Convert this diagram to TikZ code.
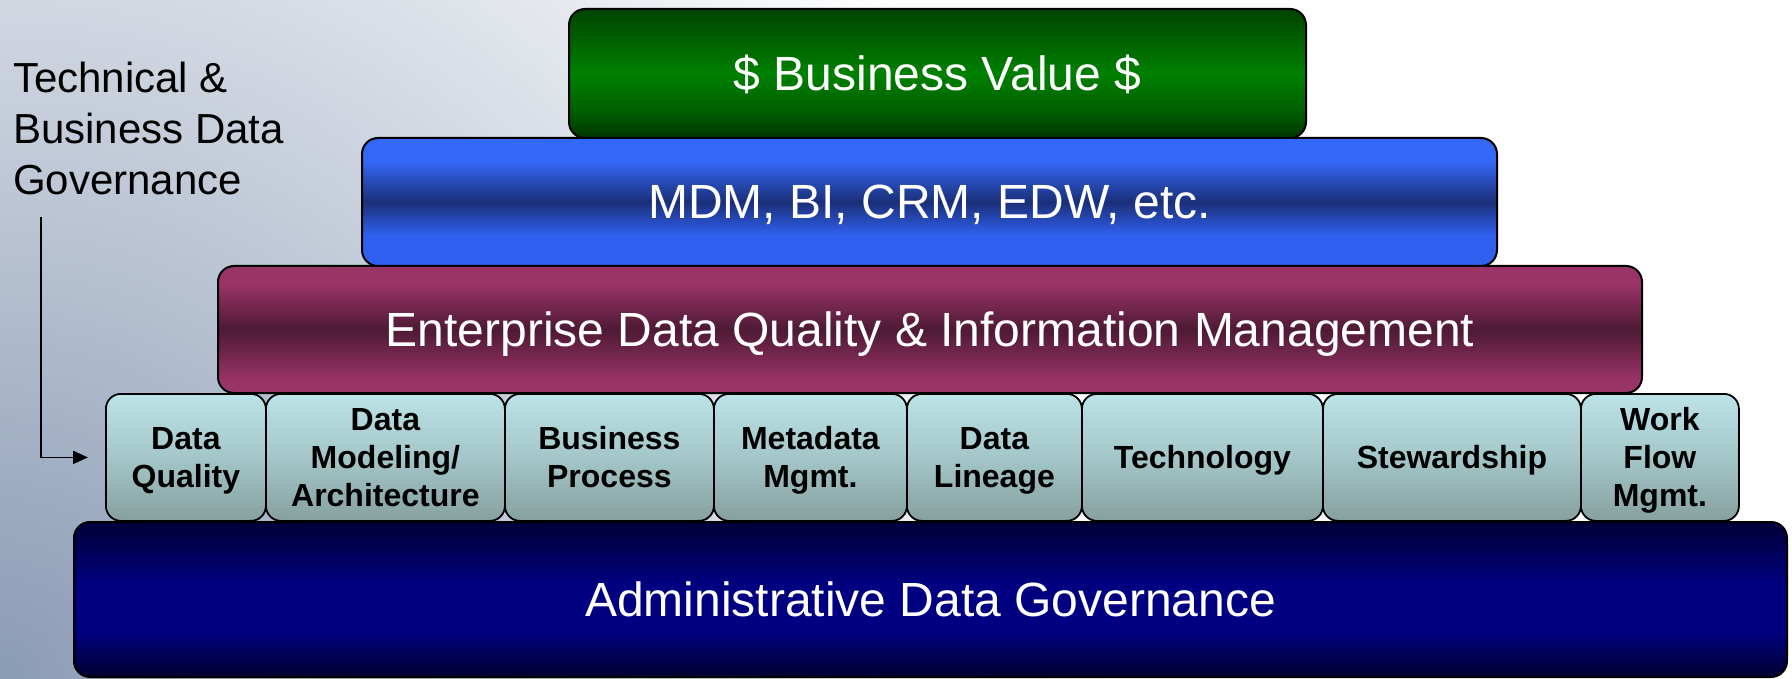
\documentclass[tikz,border=0pt]{standalone}
\usepackage{fontspec}
\setmainfont{Liberation Sans}
\usetikzlibrary{arrows.meta}
\definecolor{bgA}{HTML}{8A9BB5}
\definecolor{gT}{HTML}{004400}
\definecolor{gM}{HTML}{008000}
\definecolor{gQ}{HTML}{006000}
\definecolor{gB}{HTML}{003600}
\definecolor{bT}{HTML}{3468F8}
\definecolor{bD}{HTML}{1A2F78}
\definecolor{bB}{HTML}{3060F0}
\definecolor{mT}{HTML}{9A3366}
\definecolor{mD}{HTML}{4E1A35}
\definecolor{nT}{HTML}{000040}
\definecolor{nM}{HTML}{000080}
\definecolor{nB}{HTML}{000030}
\definecolor{tT}{HTML}{BCE3E7}
\definecolor{tM}{HTML}{A4C6C8}
\definecolor{tB}{HTML}{86A09F}
\pgfdeclareverticalshading{greenshade}{100bp}{color(0bp)=(gB); color(25bp)=(gB); color(36bp)=(gQ); color(50bp)=(gM); color(63bp)=(gQ); color(75bp)=(gT); color(100bp)=(gT)}
\pgfdeclareverticalshading{blueshade}{100bp}{color(0bp)=(bB); color(25bp)=(bB); color(37bp)=(bB); color(50bp)=(bD); color(66bp)=(bT); color(75bp)=(bT); color(100bp)=(bT)}
\pgfdeclareverticalshading{maroonshade}{100bp}{color(0bp)=(mT); color(25bp)=(mT); color(30bp)=(mT); color(50bp)=(mD); color(68bp)=(mT); color(75bp)=(mT); color(100bp)=(mT)}
\pgfdeclareverticalshading{navyshade}{100bp}{color(0bp)=(nB); color(25bp)=(nB); color(40bp)=(nM); color(55bp)=(nM); color(72bp)=(nT); color(75bp)=(nT); color(100bp)=(nT)}
\pgfdeclareverticalshading{tealshade}{100bp}{color(0bp)=(tB); color(25bp)=(tB); color(50bp)=(tM); color(75bp)=(tT); color(100bp)=(tT)}
\begin{document}
\begin{tikzpicture}[x=1pt,y=-1pt,
  layer/.style={draw=black, line width=2pt, rounded corners=16pt, inner sep=0pt,
    anchor=north west, text=white, shade, font=\fontsize{48}{57}\selectfont,
    text height=34pt, text depth=0pt},
  pillar/.style={draw=black, line width=1.8pt, rounded corners=15pt, inner sep=0pt,
    anchor=north west, shade, shading=tealshade, align=center, text=black,
    font=\bfseries\fontsize{32}{38}\selectfont, minimum height=127pt, text depth=0pt},
  conn/.style={draw=black, line width=1.8pt, -{Triangle[length=15pt,width=13pt]}, shorten >=17pt}
]
\useasboundingbox (0,0) rectangle (1792,679);
\fill[white] (0,0) rectangle (1792,679);
\begin{scope}
  \clip (0,0) rectangle (1792,679);
  \shade[inner color=bgA, outer color=white] (0,679) circle [radius=1120pt];
\end{scope}

\node[layer, shading=navyshade, minimum width=1713pt, minimum height=155pt] (adg) at (73,521) {Administrative Data Governance};

\node[pillar, minimum width=160pt] (p1) at (105,393) {Data\\Quality};
\node[pillar, minimum width=239pt] (p2) at (265,393) {Data\\Modeling/\\Architecture};
\node[pillar, minimum width=209pt] (p3) at (504,393) {Business\\Process};
\node[pillar, minimum width=193pt] (p4) at (713,393) {Metadata\\Mgmt.};
\node[pillar, minimum width=175pt] (p5) at (906,393) {Data\\Lineage};
\node[pillar, minimum width=241pt] (p6) at (1081,393) {Technology};
\node[pillar, minimum width=258pt] (p7) at (1322,393) {Stewardship};
\node[pillar, minimum width=158pt] (p8) at (1580,393) {Work\\Flow\\Mgmt.};

\node[layer, shading=maroonshade, minimum width=1424pt, minimum height=127pt] (edq) at (217,265) {Enterprise Data Quality \& Information Management};
\node[layer, shading=blueshade, minimum width=1135pt, minimum height=128pt] (mdm) at (361,137) {MDM, BI, CRM, EDW, etc.};
\node[layer, shading=greenshade, minimum width=737pt, minimum height=129pt] (bv) at (568,8) {\$ Business Value \$};

\node[anchor=north west, align=left, inner sep=0pt, font=\fontsize{42}{51}\selectfont] (lbl) at (13,62) {Technical \&\\Business Data\\Governance};

\coordinate (arrS) at (41,217);
\draw[conn] (arrS) |- (p1.west);
\end{tikzpicture}
\end{document}
